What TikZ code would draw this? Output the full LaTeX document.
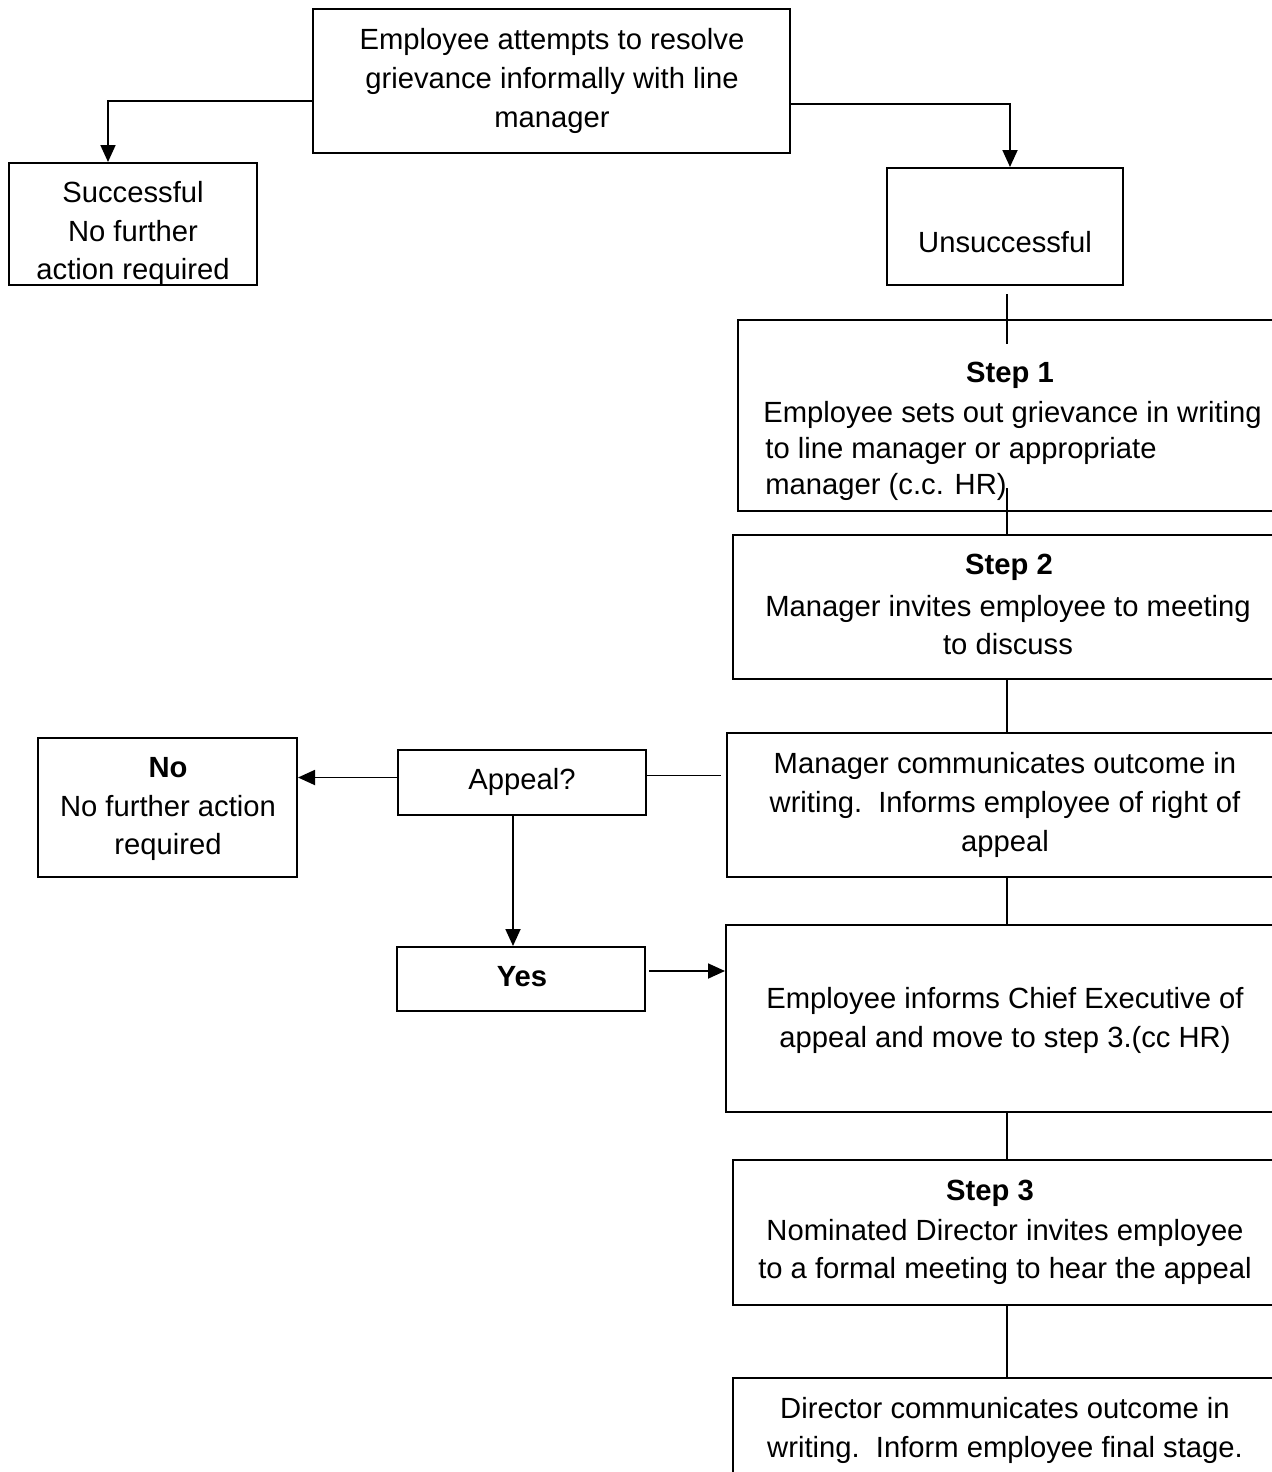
\documentclass[tikz,border=0pt]{standalone}
\usepackage{fontspec}
\setmainfont{Liberation Sans}
\usetikzlibrary{arrows.meta,calc}
\begin{document}
\begin{tikzpicture}[x=0.5pt,y=-0.5pt]
\tikzset{
 box/.style={draw, line width=1pt, inner sep=0pt, rectangle},
 txt/.style={font=\fontsize{14.6}{19.3}\selectfont, align=center, inner sep=0pt},
 conn/.style={line width=0.8pt},
 arr/.style={line width=0.9pt, -{Triangle[length=8.5pt,width=7.5pt]}},
}
\useasboundingbox (0,0) rectangle (1272,1472);
\clip (0,0) rectangle (1272,1472);
\fill[white] (0,0) rectangle (1272,1472);

% boxes
\node[box, minimum width=238.5pt, minimum height=72pt] (top) at (551.5,81) {};
\node[box, minimum width=124pt, minimum height=61pt] (succ) at (133,224) {};
\node[box, minimum width=118pt, minimum height=58.5pt] (unsucc) at (1005,226.5) {};
\node[box, minimum width=269pt, minimum height=95.5pt] (step1) at (1007,415.5) {};
\node[box, minimum width=271.5pt, minimum height=72pt] (step2) at (1004.5,607) {};
\node[box, minimum width=276.5pt, minimum height=72pt] (mgr) at (1003.5,805) {};
\node[box, minimum width=124pt, minimum height=32.5pt] (appeal) at (522,782.5) {};
\node[box, minimum width=129.5pt, minimum height=69.5pt] (no) at (167.5,807.5) {};
\node[box, minimum width=124pt, minimum height=32pt] (yes) at (521,979) {};
\node[box, minimum width=277pt, minimum height=93.5pt] (inform) at (1003,1018.5) {};
\node[box, minimum width=273.5pt, minimum height=72.5pt] (step3) at (1006.5,1232.5) {};
\node[box, minimum width=273.5pt, minimum height=71pt] (director) at (1006.5,1449) {};

% texts
\node[txt] (ttop) at (552,81) {Employee attempts to resolve\\grievance informally with line\\manager};
\node[txt] (tsucc) at (133,233.5) {Successful\\No further\\action required};
\node[txt] (tunsucc) at (1005,242) {Unsuccessful};
\node[txt, font=\fontsize{14.6}{19.3}\selectfont\bfseries] (hstep1) at (1010,375) {Step 1};
\node[txt, align=left, anchor=west, font=\fontsize{14.6}{18}\selectfont] (tstep1) at (763,451) {Employee sets out grievance in writing\\\hspace{1pt}to line manager or appropriate\\\hspace{1pt}manager (c.c. HR)};
\node[txt, font=\fontsize{14.6}{19.3}\selectfont\bfseries] (hstep2) at (1009,567) {Step 2};
\node[txt] (tstep2) at (1008,625) {Manager invites employee to meeting\\to discuss};
\node[txt] (tmgr) at (1005,805) {Manager communicates outcome in\\writing.\ \ Informs employee of right of\\appeal};
\node[txt] (tappeal) at (522,782) {Appeal?};
\node[txt] (tno) at (168,809) {\textbf{No}\\No further action\\required};
\node[txt, font=\fontsize{14.6}{19.3}\selectfont\bfseries] (tyes) at (522,977) {Yes};
\node[txt] (tinform) at (1005,1020.5) {Employee informs Chief Executive of\\appeal and move to step 3.(cc HR)};
\node[txt, font=\fontsize{14.6}{19.3}\selectfont\bfseries] (hstep3) at (990,1193) {Step 3};
\node[txt] (tstep3) at (1005,1252) {Nominated Director invites employee\\to a formal meeting to hear the appeal};
\node[txt] (tdirector) at (1005,1430.5) {Director communicates outcome in\\writing.\ \ Inform employee final stage.};

% connectors
\coordinate (cl) at (108,101);
\coordinate (cr) at (1010,104);
\coordinate (sp) at (1007,0);
\draw[arr] (top.west |- cl) -| (succ.north -| cl);
\draw[arr] (top.east |- cr) -| (unsucc.north -| cr);
\draw[conn] ($(sp |- unsucc.south)+(0,8)$) -- ($(sp |- step1.north)+(0,25)$);
\draw[conn] ($(sp |- step1.south)+(0,-24)$) -- (sp |- step2.north);
\draw[conn] (sp |- step2.south) -- (sp |- mgr.north);
\draw[conn] ($(appeal.east)+(0,-7)$) coordinate (a0) -- ($(mgr.west |- a0)+(-5,0)$);
\draw[arr] ($(appeal.west)+(0,-5)$) coordinate (a1) -- (no.east |- a1);
\draw[arr] ($(appeal.south)+(-9,0)$) coordinate (a2) -- (a2 |- yes.north);
\draw[arr] ($(yes.east)+(3,-8)$) coordinate (a3) -- (inform.west |- a3);
\draw[conn] (sp |- mgr.south) -- (sp |- inform.north);
\draw[conn] (sp |- inform.south) -- (sp |- step3.north);
\draw[conn] (sp |- step3.south) -- (sp |- director.north);
\end{tikzpicture}
\end{document}
